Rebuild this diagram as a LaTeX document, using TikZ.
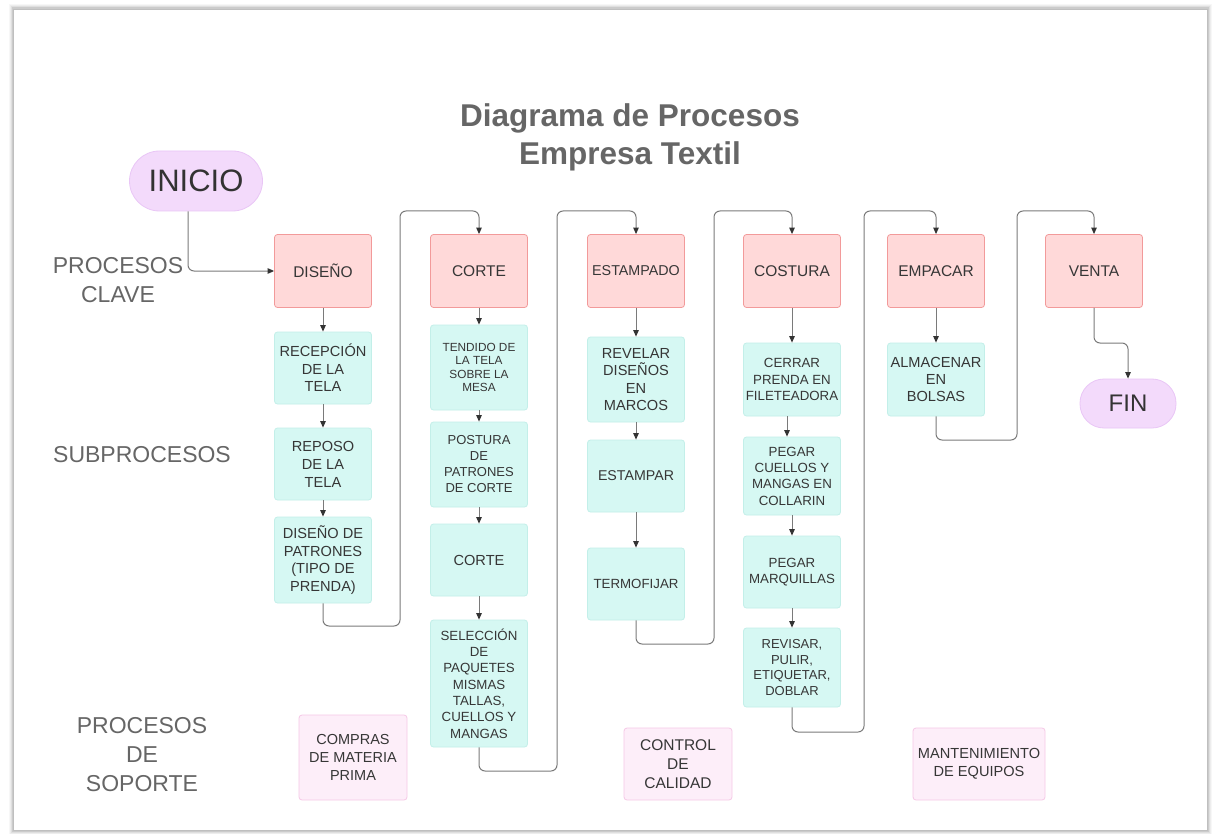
\documentclass[tikz,border=0pt]{standalone}
\usepackage{fontspec}
\setmainfont{Liberation Sans}
\usetikzlibrary{arrows.meta}
\definecolor{txt}{HTML}{363636}
\definecolor{lbl}{HTML}{666666}
\definecolor{keyfill}{HTML}{FFD9D9}
\definecolor{keydraw}{HTML}{F29A9A}
\definecolor{subfill}{HTML}{D6F8F3}
\definecolor{subdraw}{HTML}{C3EFE9}
\definecolor{supfill}{HTML}{FDEEF9}
\definecolor{supdraw}{HTML}{F6C9E7}
\definecolor{termfill}{HTML}{F3DAFB}
\definecolor{termdraw}{HTML}{E9C6F6}
\definecolor{linec}{HTML}{7A7A7A}
\definecolor{arrc}{HTML}{333333}
\tikzset{
  base/.style={draw, rounded corners=3pt, align=center, inner sep=0pt, text=txt, line width=0.8pt},
  keyb/.style={base, fill=keyfill, draw=keydraw, minimum width=97, minimum height=73, font=\fontsize{15.5}{18}\selectfont},
  subb/.style={base, fill=subfill, draw=subdraw, minimum width=97},
  supb/.style={base, fill=supfill, draw=supdraw},
  term/.style={base, fill=termfill, draw=termdraw, text=black!80},
  side/.style={align=center, text=lbl, font=\fontsize{23}{29}\selectfont},
  conn/.style={draw=linec, line width=1pt, rounded corners=6pt, -{Triangle[length=6.5pt,width=5.5pt,color=arrc]}},
  fA/.style={font=\fontsize{14.6}{17.6}\selectfont},
  fB/.style={font=\fontsize{13.3}{16.3}\selectfont},
  fC/.style={font=\fontsize{11.8}{13.2}\selectfont}
}
\begin{document}
\begin{tikzpicture}[x=1pt,y=-1pt]
\useasboundingbox (0,0) rectangle (1214,834);
% page frame with shadow
\foreach \w/\o in {9/0.03,7/0.04,5/0.06,3/0.09}
  \draw[black, opacity=\o, line width=\w pt] (13,9) rectangle (1207,830);
\draw[fill=white, draw=black!25, line width=0.8pt] (13,9) rectangle (1207,830);

% title
\node[align=center, text=lbl, font=\fontsize{31.5}{38}\selectfont\bfseries] (title) at (630,137) {Diagrama de Procesos\\Empresa Textil};

% side labels
\node[side] (lclave) at (118,280) {PROCESOS\\CLAVE};
\node[side] (lsub) at (142,455) {SUBPROCESOS};
\node[side] (lsop) at (142,755) {PROCESOS\\DE\\SOPORTE};

% terminals
\node[term, rounded corners=30pt, minimum width=133, minimum height=60, font=\fontsize{31}{36}\selectfont] (inicio) at (196,181) {INICIO};
\node[term, rounded corners=24pt, minimum width=96, minimum height=49, font=\fontsize{24}{28}\selectfont] (fin) at (1128,403.5) {FIN};

% key processes
\node[keyb] (diseno) at (323,271) {DISEÑO};
\node[keyb] (corte) at (479,271) {CORTE};
\node[keyb, font=\fontsize{14.3}{17}\selectfont] (estampado) at (636,271) {ESTAMPADO};
\node[keyb] (costura) at (792,271) {COSTURA};
\node[keyb] (empacar) at (936,271) {EMPACAR};
\node[keyb] (venta) at (1094,271) {VENTA};

% subprocesses: DISEÑO
\node[subb, fA, minimum height=72] (rec) at (323,368) {RECEPCIÓN\\DE LA\\TELA};
\node[subb, fA, minimum height=72, font=\fontsize{14.6}{17.9}\selectfont] (rep) at (323,464) {REPOSO\\DE LA\\TELA};
\node[subb, fA, minimum height=86] (pat) at (323,560) {DISEÑO DE\\PATRONES\\(TIPO DE\\PRENDA)};
% CORTE
\node[subb, fC, minimum height=85] (ten) at (479,367.5) {TENDIDO DE\\LA TELA\\SOBRE LA\\MESA};
\node[subb, font=\fontsize{13}{16}\selectfont, minimum height=85] (pos) at (479,464.5) {POSTURA\\DE\\PATRONES\\DE CORTE};
\node[subb, fA, minimum height=72] (cor) at (479,560) {CORTE};
\node[subb, fB, minimum height=127] (sel) at (479,683.5) {SELECCIÓN\\DE\\PAQUETES\\MISMAS\\TALLAS,\\CUELLOS Y\\MANGAS};
% ESTAMPADO
\node[subb, fA, minimum height=85] (rev) at (636,379.5) {REVELAR\\DISEÑOS\\EN\\MARCOS};
\node[subb, font=\fontsize{14.2}{17}\selectfont, minimum height=72] (est) at (636,476) {ESTAMPAR};
\node[subb, fB, minimum height=72] (ter) at (636,584) {TERMOFIJAR};
% COSTURA
\node[subb, fB, minimum height=73] (cer) at (792,379.5) {CERRAR\\PRENDA EN\\FILETEADORA};
\node[subb, fB, minimum height=78] (peg) at (792,476) {PEGAR\\CUELLOS Y\\MANGAS EN\\COLLARIN};
\node[subb, fB, minimum height=72] (mar) at (792,572) {PEGAR\\MARQUILLAS};
\node[subb, font=\fontsize{13}{15.5}\selectfont, minimum height=79] (rvs) at (792,667.5) {REVISAR,\\PULIR,\\ETIQUETAR,\\DOBLAR};
% EMPACAR
\node[subb, font=\fontsize{14.6}{16.7}\selectfont, minimum height=73] (alm) at (936,379.5) {ALMACENAR\\EN\\BOLSAS};

% support processes
\node[supb, minimum width=108, minimum height=85, font=\fontsize{14.5}{18}\selectfont] (compras) at (353,757.5) {COMPRAS\\DE MATERIA\\PRIMA};
\node[supb, minimum width=108, minimum height=72, font=\fontsize{15.5}{19}\selectfont] (control) at (678,764) {CONTROL\\DE\\CALIDAD};
\node[supb, minimum width=132, minimum height=72, font=\fontsize{14.6}{17.7}\selectfont] (mant) at (979,764) {MANTENIMIENTO\\DE EQUIPOS};

% junction coordinates
\coordinate (j1a) at (400,626); \coordinate (j1b) at (400,211);
\coordinate (j2a) at (557,771); \coordinate (j2b) at (557,211);
\coordinate (j3a) at (714,644); \coordinate (j3b) at (714,211);
\coordinate (j4a) at (864,732); \coordinate (j4b) at (864,211);
\coordinate (j5a) at (1017,440); \coordinate (j5b) at (1017,211);
\coordinate (j6) at (1094,343);

% connectors
\draw[conn] ([xshift=-8pt]inicio.south) |- (diseno.west);
\draw[conn] (diseno) -- (rec);
\draw[conn] (rec) -- (rep);
\draw[conn] (rep) -- (pat);
\draw[conn] (pat.south) |- (j1a) -- (j1b) -| (corte.north);
\draw[conn] (corte) -- (ten);
\draw[conn] (ten) -- (pos);
\draw[conn] (pos) -- (cor);
\draw[conn] (cor) -- (sel);
\draw[conn] (sel.south) |- (j2a) -- (j2b) -| (estampado.north);
\draw[conn] (estampado) -- (rev);
\draw[conn] (rev) -- (est);
\draw[conn] (est) -- (ter);
\draw[conn] (ter.south) |- (j3a) -- (j3b) -| (costura.north);
\draw[conn] (costura) -- (cer);
\draw[conn] ([xshift=-5pt]cer.south) -- ([xshift=-5pt]peg.north);
\draw[conn] (peg) -- (mar);
\draw[conn] (mar) -- (rvs);
\draw[conn] (rvs.south) |- (j4a) -- (j4b) -| (empacar.north);
\draw[conn] (empacar) -- (alm);
\draw[conn] (alm.south) |- (j5a) -- (j5b) -| (venta.north);
\draw[conn] (venta.south) -- (j6) -| (fin.north);
\end{tikzpicture}
\end{document}
